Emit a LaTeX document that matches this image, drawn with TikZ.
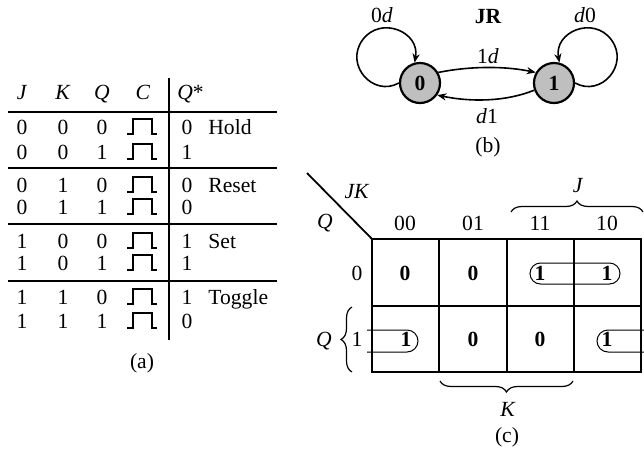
\documentclass[tikz,border=0pt]{standalone}
\usepackage{fontspec}
\setmainfont{Liberation Serif}
\usetikzlibrary{arrows.meta,decorations.pathreplacing}
\begin{document}
\begin{tikzpicture}[x=0.5pt,y=-0.5pt,
  font=\fontsize{10.8}{13}\selectfont,
  txt/.style={inner sep=0pt, anchor=base},
  tline/.style={line width=1pt},
  gridline/.style={line width=1.1pt},
  oval/.style={line width=0.5pt},
  bracestyle/.style={line width=0.6pt, decorate, decoration={brace, amplitude=5.5pt}},
  state/.style={circle, draw, line width=1.1pt, fill=black!25, minimum size=20pt, inner sep=0pt, font=\fontsize{10.8}{13}\selectfont\bfseries},
  arr/.style={line width=0.8pt, -{Stealth[length=4.5pt,width=3.6pt]}},
  clk/.pic={\draw[line width=0.8pt] (-16,0) -- (-10,0) -- (-10,-15) -- (9,-15) -- (9,0) -- (14,0);}
]
\useasboundingbox (0,0) rectangle (644,456);

% ---------- (a) table ----------
\node[txt] (hJ) at (22,99) {\textit{J}};
\node[txt] (hK) at (63,99) {\textit{K}};
\node[txt] (hQ) at (102,99) {\textit{Q}};
\node[txt] (hC) at (143,99) {\textit{C}};
\node[txt, anchor=base west] (hQs) at (177,99) {\textit{Q}*};

\foreach \b/\j/\k/\q/\s [count=\i] in
  {134/0/0/0/0, 159/0/0/1/1, 192/0/1/0/0, 214/0/1/1/0,
   248/1/0/0/1, 270/1/0/1/1, 304/1/1/0/1, 328/1/1/1/0}{
  \node[txt] (j\i) at (22,\b) {\j};
  \node[txt] (k\i) at (63,\b) {\k};
  \node[txt] (q\i) at (102,\b) {\q};
  \pic at (143,\b) {clk};
  \node[txt] (s\i) at (187,\b) {\s};
}
\node[txt, anchor=base west] (lhold) at (208,134) {Hold};
\node[txt, anchor=base west] (lreset) at (208,192) {Reset};
\node[txt, anchor=base west] (lset) at (208,248) {Set};
\node[txt, anchor=base west] (ltoggle) at (208,304) {Toggle};

\draw[tline] (8,112) -- (277,112);
\draw[tline] (8,168) -- (277,168);
\draw[tline] (8,224) -- (277,224);
\draw[tline] (8,281) -- (277,281);
\draw[tline] (169,78) -- (169,340);

\node (la) at (142,363) {(a)};

% ---------- (b) state diagram ----------
\node[state] (s0) at (420,83) {0};
\node[state] (s1) at (554,83) {1};

\draw[arr] (s0.west) .. controls (372.9,97.4) and (344.4,64.8) .. (362.5,40)
  .. controls (380.5,15.2) and (420.3,31.8) .. (s0.105);
\draw[arr] (s1.east) .. controls (601.1,97.4) and (629.6,64.8) .. (611.5,40)
  .. controls (593.5,15.2) and (553.7,31.8) .. (s1.75);
\draw[arr] (s0.30) .. controls (470,66) and (505,66) .. (s1.150);
\draw[arr] (s1.200) .. controls (505,102) and (470,102) .. (s0.-35);

\node[txt] (l0d) at (382,22) {0\textit{d}};
\node[txt] (ld0) at (585,22) {\textit{d}0};
\node[txt, font=\fontsize{10.8}{13}\selectfont\bfseries] (ljr) at (488,23) {JR};
\node[txt] (l1d) at (488,63) {1\textit{d}};
\node[txt] (ld1) at (487,123) {\textit{d}1};
\node (lb) at (488,147) {(b)};

% ---------- (c) K-map ----------
\coordinate (kc) at (372,239);
\coordinate (dg) at (307,173);
\draw[line width=0.9pt] (dg) -- (kc);
\draw[gridline] (kc) rectangle (641,372);
\draw[gridline] (439,239) -- (439,372);
\draw[gridline] (507,239) -- (507,372);
\draw[gridline] (574,239) -- (574,372);
\draw[gridline] (372,306) -- (641,306);

\node[txt] (lJK) at (357,198) {\textit{JK}};
\node[txt] (lQt) at (325,228) {\textit{Q}};
\node[txt] (h00) at (405,230) {00};
\node[txt] (h01) at (473,230) {01};
\node[txt] (h11) at (540,230) {11};
\node[txt] (h10) at (607,230) {10};
\node[txt] (r0) at (357,280) {0};
\node[txt] (r1) at (357,346) {1};

\node[txt] (c00) at (405,280) {\textbf{0}};
\node[txt] (c01) at (473,280) {\textbf{0}};
\node[txt] (c11) at (540,280) {\textbf{1}};
\node[txt] (c10) at (607,280) {\textbf{1}};
\node[txt] (d00) at (406,346) {\textbf{1}};
\node[txt] (d01) at (473,346) {\textbf{0}};
\node[txt] (d11) at (540,346) {\textbf{0}};
\node[txt] (d10) at (607,346) {\textbf{1}};

\draw[oval, rounded corners=5.25pt] (530,263) rectangle (620,284);
\draw[oval, rounded corners=5.5pt] (367,330) -- (418,330) -- (418,352) -- (367,352);
\draw[oval, rounded corners=5.5pt] (644,330) -- (597,330) -- (597,352) -- (644,352);

\draw[bracestyle] (511,212) -- (643,212);
\node[txt] (lJ) at (578,192) {\textit{J}};
\draw[bracestyle] (573,381) -- (440,381);
\node[txt] (lK) at (508,416) {\textit{K}};
\draw[bracestyle] (352,372) -- (352,307);
\node[txt] (lQl) at (324,346) {\textit{Q}};

\node (lc) at (507,437) {(c)};
\end{tikzpicture}
\end{document}
